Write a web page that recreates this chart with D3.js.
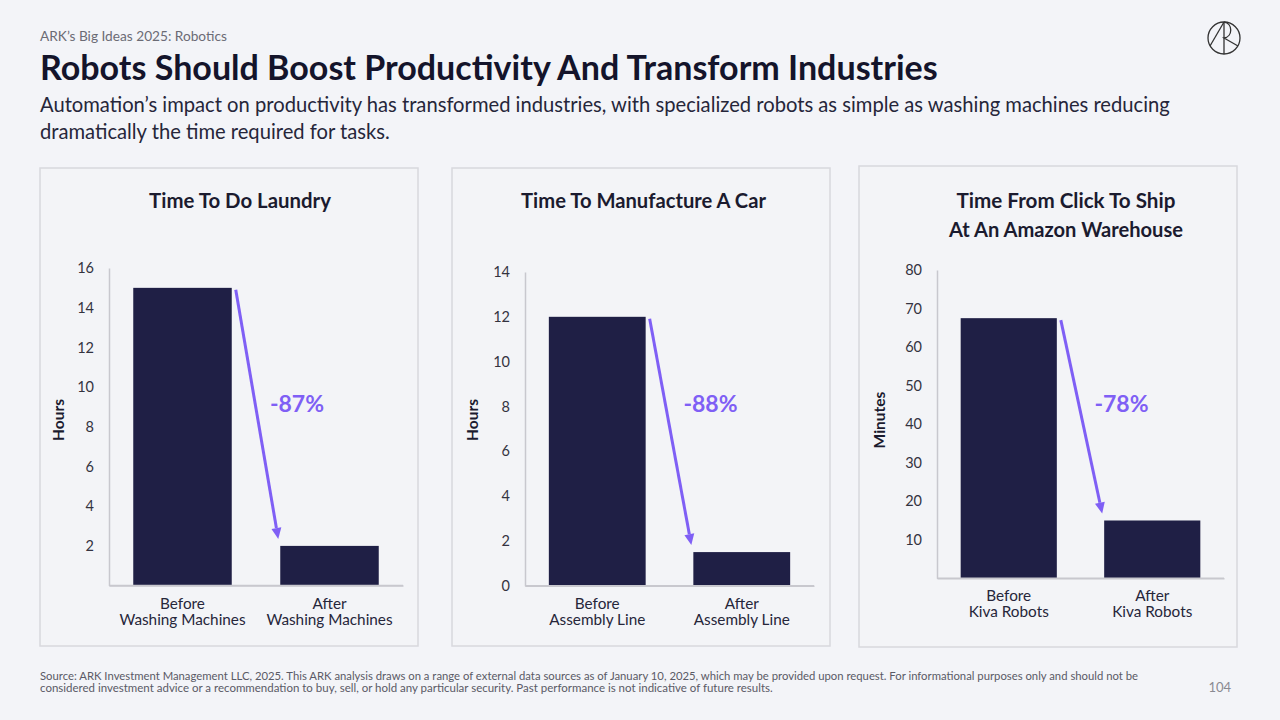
<!DOCTYPE html>
<html><head><meta charset="utf-8">
<script src="https://cdn.jsdelivr.net/npm/d3@7"></script>
<style>
html,body{margin:0;padding:0;background:#f3f4f8;}
svg{display:block;font-family:Lato, "Open Sans", sans-serif;}
</style></head>
<body>
<svg id="c" width="1280" height="720"></svg>
<script>
// ---------- data ----------
const laundryCategories = [["Before","Washing Machines"],["After","Washing Machines"]];
const laundryValues = [15, 2];
const laundryTicks = [2,4,6,8,10,12,14,16];

const carCategories = [["Before","Assembly Line"],["After","Assembly Line"]];
const carValues = [12, 1.5];
const carTicks = [0,2,4,6,8,10,12,14];

const amazonCategories = [["Before","Kiva Robots"],["After","Kiva Robots"]];
const amazonValues = [67.5, 15];
const amazonTicks = [10,20,30,40,50,60,70,80];

const panelTitles = [["Time To Do Laundry"],["Time To Manufacture A Car"],["Time From Click To Ship","At An Amazon Warehouse"]];
const axisTitles = ["Hours","Hours","Minutes"];
const changeLabels = ["-87%","-88%","-78%"];
const yMaxes = [16, 14, 80];

const headerText = "ARK\u2019s Big Ideas 2025: Robotics";
const titleText = "Robots Should Boost Productivity And Transform Industries";
const subtitleLines = ["Automation\u2019s impact on productivity has transformed industries, with specialized robots as simple as washing machines reducing","dramatically the time required for tasks."];
const footerLines = ["Source: ARK Investment Management LLC, 2025. This ARK analysis draws on a range of external data sources as of January 10, 2025, which may be provided upon request. For informational purposes only and should not be","considered investment advice or a recommendation to buy, sell, or hold any particular security. Past performance is not indicative of future results."];
const pageNumber = "104";

// ---------- styles ----------
const NAVY = "#1f1f45", PURPLE = "#7f5ff5", DARK = "#1b1b2f";
const svg = d3.select("#c");

function fit(sel, w){
  const node = sel.node();
  const cur = node.getComputedTextLength();
  const fs = parseFloat(sel.attr("font-size"));
  sel.attr("font-size", (fs * w / cur).toFixed(2));
}

// header
svg.append("text").attr("x",40).attr("y",41).attr("font-size",13).attr("fill","#6b6b75").text(headerText).call(fit,187);
svg.append("text").attr("x",40).attr("y",80).attr("font-size",31).attr("font-weight",700).attr("fill","#14142b").text(titleText).call(fit,898);
subtitleLines.forEach((t,i)=>{
  const s = svg.append("text").attr("x",40).attr("y",112+i*26.5).attr("font-size",18).attr("fill","#26263a").text(t);
  if(i===0) s.call(fit,1130); else s.call(fit,350);
});

// logo
const lg = svg.append("g").attr("transform","translate(1224,38)").attr("fill","none").attr("stroke","#333").attr("stroke-width",1.3);
lg.append("circle").attr("r",16);
lg.append("line").attr("x1",0).attr("y1",-16).attr("x2",0).attr("y2",16);
lg.append("line").attr("x1",0).attr("y1",-16).attr("x2",-14).attr("y2",8);
lg.append("path").attr("d","M0,-16 C9,-15 9,-1 0,0 L14,8");

// footer
footerLines.forEach((t,i)=>{
  const s = svg.append("text").attr("x",40).attr("y",680+i*12).attr("font-size",10.5).attr("fill","#5a5a66").text(t);
  if(i===0) s.call(fit,1098); else s.call(fit,733);
});
svg.append("text").attr("x",1231).attr("y",692).attr("text-anchor","end").attr("font-size",13).attr("fill","#8a8a92").text(pageNumber);

// ---------- panels ----------
const panels = [
  {box:[40,168,378,478], x0:109, x1:403, yBase:585.6, yTop:268, titleX:240, titleW:[182], axisLabX:58, cats:laundryCategories, vals:laundryValues, ticks:laundryTicks},
  {box:[452,168,378,478], x0:525, x1:814, yBase:585.7, yTop:272, titleX:643.5, titleW:[245], axisLabX:472, cats:carCategories, vals:carValues, ticks:carTicks},
  {box:[859,166,378,481], x0:937, x1:1224, yBase:578.3, yTop:270, titleX:1066, titleW:[219,234], axisLabX:879, cats:amazonCategories, vals:amazonValues, ticks:amazonTicks}
];

panels.forEach((p,i)=>{
  const g = svg.append("g");
  g.append("rect").attr("x",p.box[0]).attr("y",p.box[1]).attr("width",p.box[2]).attr("height",p.box[3])
    .attr("fill","#f3f4f7").attr("stroke","#d8d8dd").attr("stroke-width",1.5);

  panelTitles[i].forEach((t,j)=>{
    g.append("text").attr("x",p.titleX).attr("y",208+j*29).attr("text-anchor","middle")
      .attr("font-size",18).attr("font-weight",700).attr("fill",DARK).text(t).call(fit,p.titleW[j]);
  });

  const x = d3.scaleBand().domain(d3.range(p.vals.length)).range([p.x0,p.x1]).paddingInner(0.33).paddingOuter(0.165);
  const y = d3.scaleLinear().domain([0,yMaxes[i]]).range([p.yBase,p.yTop]);

  // y axis
  const ya = g.append("g").attr("transform",`translate(${p.x0},0)`)
    .call(d3.axisLeft(y).tickValues(p.ticks).tickSize(0).tickPadding(15).tickFormat(d3.format("d")));
  ya.select(".domain").attr("stroke","#c8c8ce").attr("stroke-width",1.5);
  ya.selectAll("text").attr("font-size",14.5).attr("fill","#33333f").attr("font-family","Lato, sans-serif");

  // x axis
  const xa = g.append("g").attr("transform",`translate(0,${p.yBase})`)
    .call(d3.axisBottom(x).tickSize(0).tickSizeOuter(0).tickFormat(""));
  xa.select(".domain").attr("stroke","#c8c8ce").attr("stroke-width",1.5);

  // bars
  g.selectAll("rect.bar").data(p.vals).join("rect").attr("class","bar")
    .attr("x",(d,k)=>x(k)).attr("width",x.bandwidth())
    .attr("y",d=>y(d)).attr("height",d=>p.yBase-y(d)).attr("fill",NAVY);
  g.append("line").attr("x1",p.x0).attr("x2",p.x1).attr("y1",p.yBase).attr("y2",p.yBase).attr("stroke","#c8c8ce").attr("stroke-width",1.5);

  // category labels
  p.cats.forEach((c,k)=>{
    c.forEach((line,j)=>{
      g.append("text").attr("x",x(k)+x.bandwidth()/2).attr("y",p.yBase+23+j*16).attr("text-anchor","middle")
        .attr("font-size",15.3).attr("fill","#26263a").text(line);
    });
  });

  // axis title
  g.append("text").attr("transform",`translate(${p.axisLabX+5.5},420) rotate(-90)`).attr("text-anchor","middle")
    .attr("font-size",15.5).attr("font-weight",700).attr("fill",DARK).text(axisTitles[i]);

  // arrow
  const sx = x(0)+x.bandwidth()+4, sy = y(p.vals[0])+2;
  const tx = x(1)-2, ty = y(p.vals[1])-7;
  const ang = Math.atan2(ty-sy, tx-sx);
  const hl = 11, hw = 5;
  const bx = tx - hl*Math.cos(ang), by = ty - hl*Math.sin(ang);
  g.append("line").attr("x1",sx).attr("y1",sy).attr("x2",bx).attr("y2",by).attr("stroke",PURPLE).attr("stroke-width",3);
  g.append("path").attr("d",`M${tx},${ty} L${bx + hw*Math.sin(ang)},${by - hw*Math.cos(ang)} L${bx - hw*Math.sin(ang)},${by + hw*Math.cos(ang)} Z`).attr("fill",PURPLE);

  g.append("text").attr("x",(sx+tx)/2+40).attr("y",412).attr("text-anchor","middle")
    .attr("font-size",23).attr("font-weight",700).attr("fill",PURPLE).text(changeLabels[i]);
});
</script>
</body></html>
